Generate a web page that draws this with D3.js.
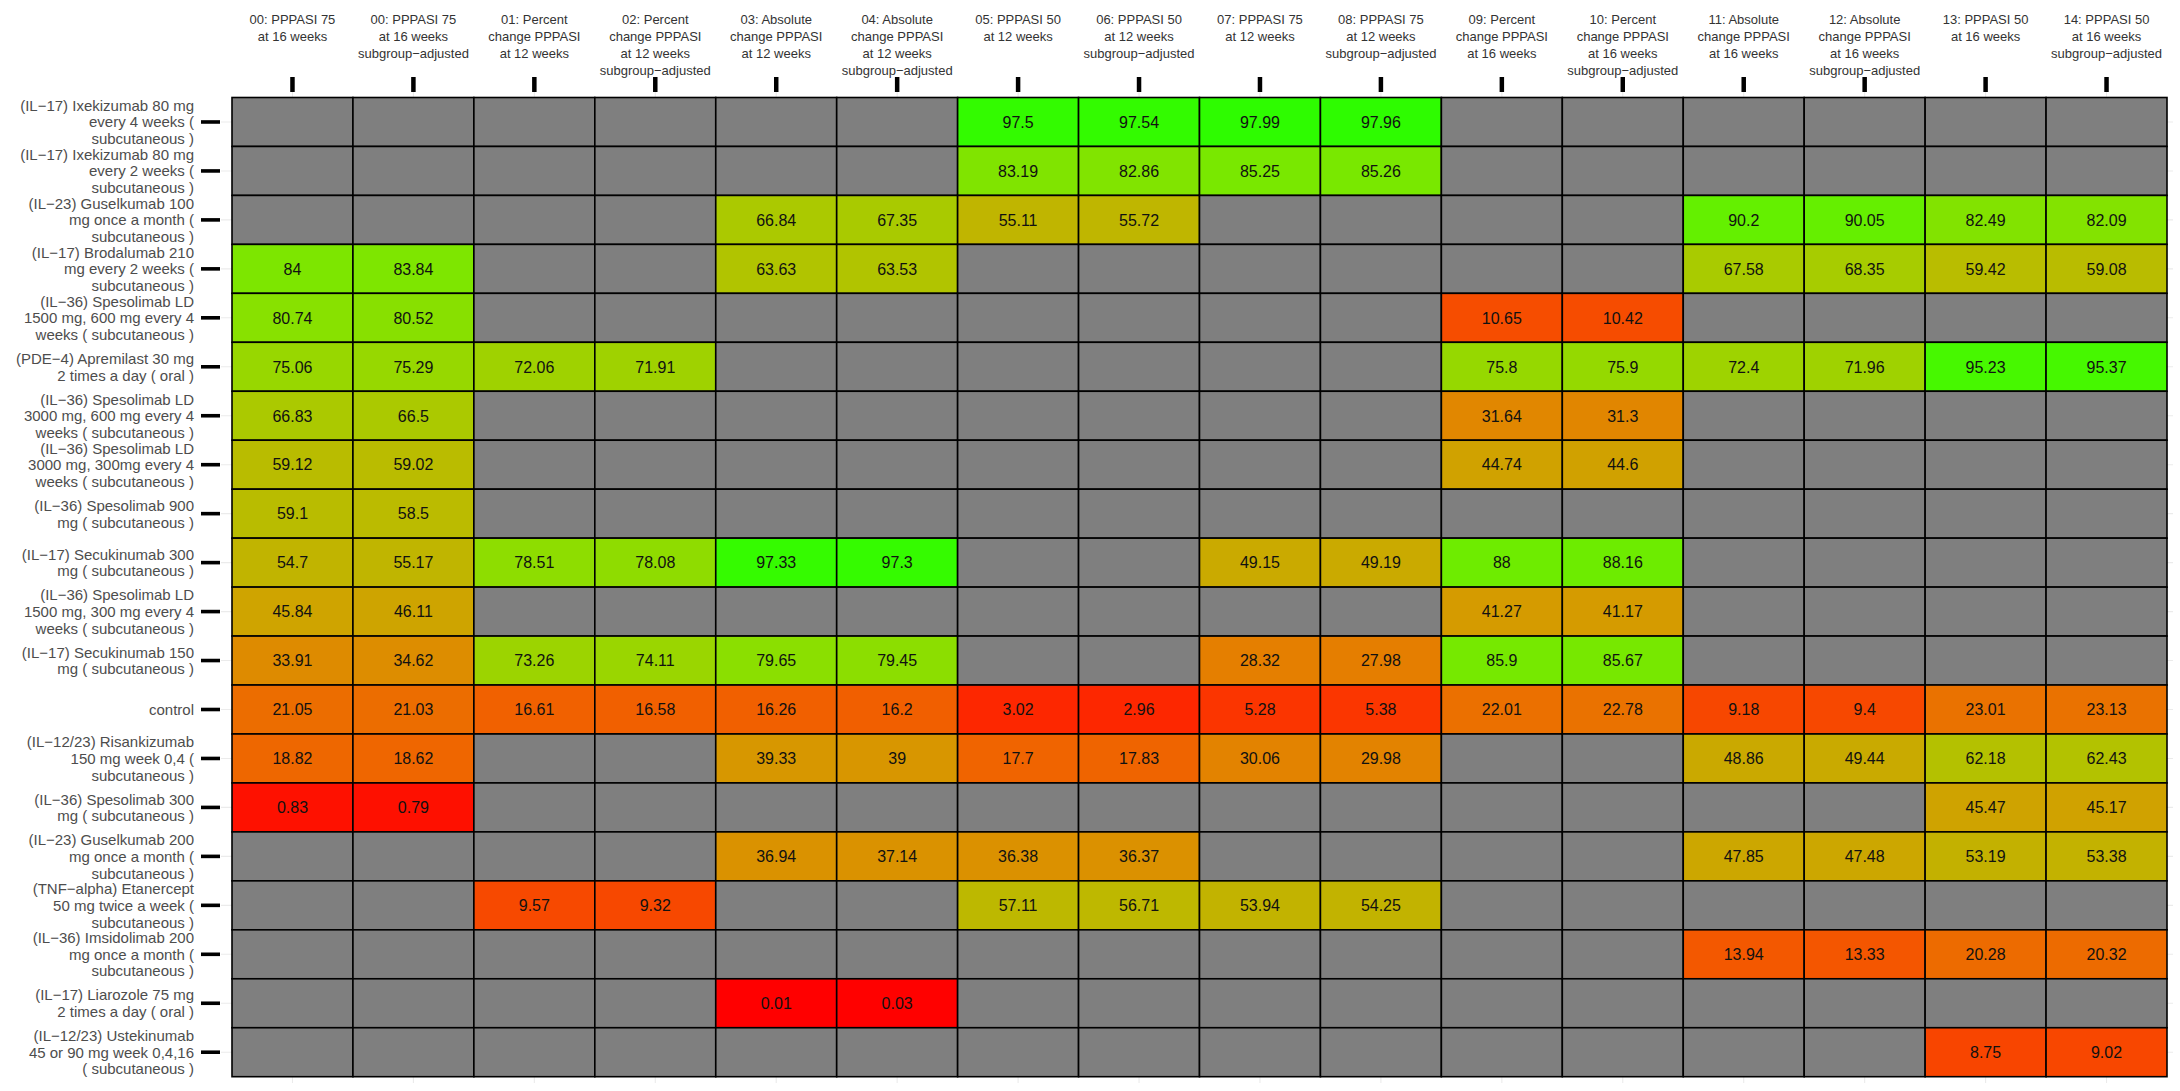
<!DOCTYPE html>
<html>
<head>
<meta charset="utf-8">
<script src="https://cdn.jsdelivr.net/npm/d3@7"></script>
<style>
  html, body { margin: 0; padding: 0; background: #ffffff; }
  svg { display: block; }
  text { font-family: "Liberation Sans", Arial, sans-serif; }
</style>
</head>
<body>
<svg id="chart" width="2180" height="1091"></svg>
<script>
// ---------- DATA ----------
const treatments = [
  "(IL−17) Ixekizumab 80 mg\nevery 4 weeks (\nsubcutaneous )",
  "(IL−17) Ixekizumab 80 mg\nevery 2 weeks (\nsubcutaneous )",
  "(IL−23) Guselkumab 100\nmg once a month (\nsubcutaneous )",
  "(IL−17) Brodalumab 210\nmg every 2 weeks (\nsubcutaneous )",
  "(IL−36) Spesolimab LD\n1500 mg, 600 mg every 4\nweeks ( subcutaneous )",
  "(PDE−4) Apremilast 30 mg\n2 times a day ( oral )",
  "(IL−36) Spesolimab LD\n3000 mg, 600 mg every 4\nweeks ( subcutaneous )",
  "(IL−36) Spesolimab LD\n3000 mg, 300mg every 4\nweeks ( subcutaneous )",
  "(IL−36) Spesolimab 900\nmg ( subcutaneous )",
  "(IL−17) Secukinumab 300\nmg ( subcutaneous )",
  "(IL−36) Spesolimab LD\n1500 mg, 300 mg every 4\nweeks ( subcutaneous )",
  "(IL−17) Secukinumab 150\nmg ( subcutaneous )",
  "control",
  "(IL−12/23) Risankizumab\n150 mg week 0,4 (\nsubcutaneous )",
  "(IL−36) Spesolimab 300\nmg ( subcutaneous )",
  "(IL−23) Guselkumab 200\nmg once a month (\nsubcutaneous )",
  "(TNF−alpha) Etanercept\n50 mg twice a week (\nsubcutaneous )",
  "(IL−36) Imsidolimab 200\nmg once a month (\nsubcutaneous )",
  "(IL−17) Liarozole 75 mg\n2 times a day ( oral )",
  "(IL−12/23) Ustekinumab\n45 or 90 mg week 0,4,16\n( subcutaneous )"
];

const outcomes = [
  "00: PPPASI 75\nat 16 weeks",
  "00: PPPASI 75\nat 16 weeks\nsubgroup−adjusted",
  "01: Percent\nchange PPPASI\nat 12 weeks",
  "02: Percent\nchange PPPASI\nat 12 weeks\nsubgroup−adjusted",
  "03: Absolute\nchange PPPASI\nat 12 weeks",
  "04: Absolute\nchange PPPASI\nat 12 weeks\nsubgroup−adjusted",
  "05: PPPASI 50\nat 12 weeks",
  "06: PPPASI 50\nat 12 weeks\nsubgroup−adjusted",
  "07: PPPASI 75\nat 12 weeks",
  "08: PPPASI 75\nat 12 weeks\nsubgroup−adjusted",
  "09: Percent\nchange PPPASI\nat 16 weeks",
  "10: Percent\nchange PPPASI\nat 16 weeks\nsubgroup−adjusted",
  "11: Absolute\nchange PPPASI\nat 16 weeks",
  "12: Absolute\nchange PPPASI\nat 16 weeks\nsubgroup−adjusted",
  "13: PPPASI 50\nat 16 weeks",
  "14: PPPASI 50\nat 16 weeks\nsubgroup−adjusted"
];

// one array per outcome column, values in treatment order (null = not reported)
const n = null;
const o00 = [n, n, n, 84, 80.74, 75.06, 66.83, 59.12, 59.1, 54.7, 45.84, 33.91, 21.05, 18.82, 0.83, n, n, n, n, n];
const o00adj = [n, n, n, 83.84, 80.52, 75.29, 66.5, 59.02, 58.5, 55.17, 46.11, 34.62, 21.03, 18.62, 0.79, n, n, n, n, n];
const o01 = [n, n, n, n, n, 72.06, n, n, n, 78.51, n, 73.26, 16.61, n, n, n, 9.57, n, n, n];
const o02 = [n, n, n, n, n, 71.91, n, n, n, 78.08, n, 74.11, 16.58, n, n, n, 9.32, n, n, n];
const o03 = [n, n, 66.84, 63.63, n, n, n, n, n, 97.33, n, 79.65, 16.26, 39.33, n, 36.94, n, n, 0.01, n];
const o04 = [n, n, 67.35, 63.53, n, n, n, n, n, 97.3, n, 79.45, 16.2, 39, n, 37.14, n, n, 0.03, n];
const o05 = [97.5, 83.19, 55.11, n, n, n, n, n, n, n, n, n, 3.02, 17.7, n, 36.38, 57.11, n, n, n];
const o06 = [97.54, 82.86, 55.72, n, n, n, n, n, n, n, n, n, 2.96, 17.83, n, 36.37, 56.71, n, n, n];
const o07 = [97.99, 85.25, n, n, n, n, n, n, n, 49.15, n, 28.32, 5.28, 30.06, n, n, 53.94, n, n, n];
const o08 = [97.96, 85.26, n, n, n, n, n, n, n, 49.19, n, 27.98, 5.38, 29.98, n, n, 54.25, n, n, n];
const o09 = [n, n, n, n, 10.65, 75.8, 31.64, 44.74, n, 88, 41.27, 85.9, 22.01, n, n, n, n, n, n, n];
const o10 = [n, n, n, n, 10.42, 75.9, 31.3, 44.6, n, 88.16, 41.17, 85.67, 22.78, n, n, n, n, n, n, n];
const o11 = [n, n, 90.2, 67.58, n, 72.4, n, n, n, n, n, n, 9.18, 48.86, n, 47.85, n, 13.94, n, n];
const o12 = [n, n, 90.05, 68.35, n, 71.96, n, n, n, n, n, n, 9.4, 49.44, n, 47.48, n, 13.33, n, n];
const o13 = [n, n, 82.49, 59.42, n, 95.23, n, n, n, n, n, n, 23.01, 62.18, 45.47, 53.19, n, 20.28, n, 8.75];
const o14 = [n, n, 82.09, 59.08, n, 95.37, n, n, n, n, n, n, 23.13, 62.43, 45.17, 53.38, n, 20.32, n, 9.02];

const seriesByOutcome = [o00, o00adj, o01, o02, o03, o04, o05, o06, o07, o08, o09, o10, o11, o12, o13, o14];

// ---------- BUILD ----------
const cells = [];
outcomes.forEach((oc, j) => {
  treatments.forEach((tr, i) => {
    cells.push({ outcome: oc, treatment: tr, value: seriesByOutcome[j][i] });
  });
});

const svg = d3.select("#chart");

const plotLeft = 232, plotRight = 2167, plotTop = 97.5, plotBottom = 1076.7;

const x = d3.scaleBand().domain(outcomes).range([plotLeft, plotRight]).padding(0);
const y = d3.scaleBand().domain(treatments).range([plotTop, plotBottom]).padding(0);

const color = d3.scaleLinear()
  .domain([0, 100])
  .range(["#ff0000", "#00ff00"])
  .interpolate(d3.interpolateLab)
  .clamp(true);

const naFill = "#7f7f7f";

// panel background with faint grid lines (peeking out beyond the tiles)
const panel = { l: 221, r: 2173, t: 92, b: 1083 };
svg.append("rect")
  .attr("x", panel.l).attr("y", panel.t)
  .attr("width", panel.r - panel.l).attr("height", panel.b - panel.t)
  .attr("fill", "#ffffff");
const grid = svg.append("g").attr("stroke", "#ebebeb").attr("stroke-width", 1.1);
grid.selectAll("line.gy").data(treatments).enter().append("line")
  .attr("x1", panel.l).attr("x2", panel.r)
  .attr("y1", d => y(d) + y.bandwidth() / 2).attr("y2", d => y(d) + y.bandwidth() / 2);
grid.selectAll("line.gx").data(outcomes).enter().append("line")
  .attr("y1", panel.t).attr("y2", panel.b)
  .attr("x1", d => x(d) + x.bandwidth() / 2).attr("x2", d => x(d) + x.bandwidth() / 2);

// tiles
svg.append("g").selectAll("rect").data(cells).enter().append("rect")
  .attr("x", d => x(d.outcome))
  .attr("y", d => y(d.treatment))
  .attr("width", x.bandwidth())
  .attr("height", y.bandwidth())
  .attr("fill", d => d.value == null ? naFill : color(d.value))
  .attr("stroke", "#000000")
  .attr("stroke-width", 1.6);

// cell values
svg.append("g").selectAll("text").data(cells.filter(d => d.value != null)).enter().append("text")
  .attr("x", d => x(d.outcome) + x.bandwidth() / 2)
  .attr("y", d => y(d.treatment) + y.bandwidth() / 2)
  .attr("dy", "0.36em")
  .attr("text-anchor", "middle")
  .attr("font-size", 16)
  .attr("fill", "#111111")
  .text(d => String(d.value));

// top axis
const xAxis = d3.axisTop(x).tickSize(15).tickSizeOuter(0).tickFormat(() => "");
const gx = svg.append("g").attr("transform", `translate(0,${92})`).call(xAxis);
gx.select(".domain").remove();
gx.selectAll(".tick line").attr("stroke", "#000").attr("stroke-width", 4.5);

const headerLine = 17;
gx.selectAll(".tick").each(function (d) {
  const lines = d.split("\n");
  const t = d3.select(this).append("text")
    .attr("text-anchor", "middle")
    .attr("fill", "#333333")
    .attr("font-size", 13)
    .attr("y", 0);
  lines.forEach((ln, k) => {
    t.append("tspan").attr("x", 0).attr("y", 24 - 92 + k * headerLine).text(ln);
  });
});

// left axis
const yAxis = d3.axisLeft(y).tickSize(19).tickSizeOuter(0).tickFormat(() => "");
const gy = svg.append("g").attr("transform", `translate(${220},0)`).call(yAxis);
gy.select(".domain").remove();
gy.selectAll(".tick line").attr("stroke", "#000").attr("stroke-width", 3.6);

const rowLine = 16.7;
gy.selectAll(".tick").each(function (d) {
  const lines = d.split("\n");
  const t = d3.select(this).append("text")
    .attr("text-anchor", "end")
    .attr("fill", "#4d4d4d")
    .attr("font-size", 15);
  const first = -((lines.length - 1) / 2) * rowLine + 5.5;
  lines.forEach((ln, k) => {
    t.append("tspan").attr("x", -26).attr("y", first + k * rowLine).text(ln);
  });
});
</script>
</body>
</html>
